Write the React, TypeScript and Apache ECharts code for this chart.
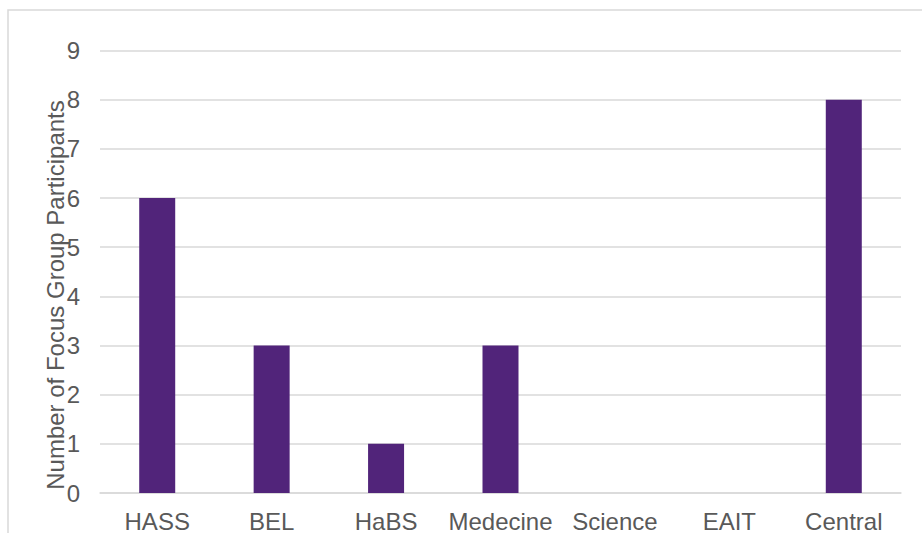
import React, { useEffect, useRef } from "react";
import * as echarts from "echarts";

const categories = ["HASS", "BEL", "HaBS", "Medecine", "Science", "EAIT", "Central"];
const participants = [6, 3, 1, 3, 0, 0, 8];
const yAxisTitle = "Number of Focus Group Participants";

export default function App() {
  const ref = useRef<HTMLDivElement>(null);
  useEffect(() => {
    const chart = echarts.init(ref.current!, undefined, { renderer: "svg" });
    chart.setOption({
      animation: false,
      grid: { left: 100, right: 21, top: 50.5, height: 447.5, containLabel: false },
      graphic: [
        {
          type: "rect",
          shape: { x: 8, y: 10, width: 930, height: 600 },
          style: { fill: "none", stroke: "#d9d9d9", lineWidth: 1.5 },
          silent: true,
        },
        {
          type: "text",
          x: 55,
          y: 295,
          rotation: Math.PI / 2,
          style: {
            text: yAxisTitle,
            font: '24px "Liberation Sans", Arial, sans-serif',
            fill: "#595959",
            align: "center",
            verticalAlign: "middle",
          },
        },
      ],
      xAxis: {
        type: "category",
        data: categories,
        axisLine: { show: true, lineStyle: { color: "#d9d9d9", width: 1.5 } },
        axisTick: { show: false },
        axisLabel: {
          color: "#595959",
          fontSize: 24,
          fontFamily: '"Liberation Sans", Arial, sans-serif',
          margin: 16,
          interval: 0,
        },
      },
      yAxis: {
        type: "value",
        min: 0,
        max: 9,
        interval: 1,
        axisLine: { show: false },
        axisTick: { show: false },
        splitLine: { lineStyle: { color: "#d9d9d9", width: 1.5 } },
        axisLabel: {
          color: "#595959",
          fontSize: 24,
          fontFamily: '"Liberation Sans", Arial, sans-serif',
          margin: 20,
        },
      },
      series: [
        {
          type: "bar",
          data: participants,
          barWidth: 36,
          itemStyle: { color: "#51247A" },
        },
      ],
    });
    return () => chart.dispose();
  }, []);
  return <div ref={ref} style={{ width: 922, height: 533, position: "absolute", left: 0, top: 0 }} />;
}
